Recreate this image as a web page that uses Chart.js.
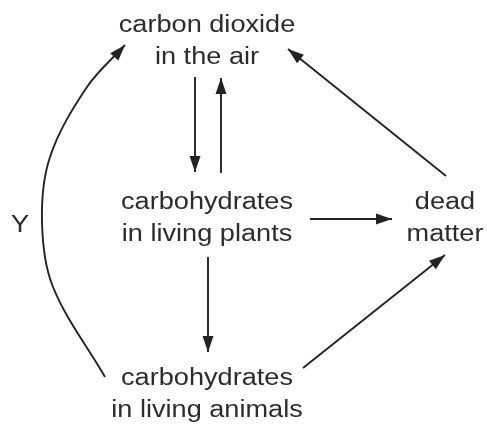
<!DOCTYPE html>
<html>
<head>
<meta charset="utf-8">
<script src="https://cdn.jsdelivr.net/npm/chart.js@4.4.1/dist/chart.umd.min.js"></script>
<style>
  html, body { margin: 0; padding: 0; background: #fff; }
  #wrap { width: 487px; height: 427px; }
</style>
</head>
<body>
<div id="wrap"><canvas id="myChart"></canvas></div>
<script>
// Boxes of the carbon cycle (text lines, centre x, first baseline y)
const boxLines = [
    ['carbon dioxide', 'in the air'],
    ['carbohydrates', 'in living plants'],
    ['dead', 'matter'],
    ['carbohydrates', 'in living animals']
];
const boxX = [207, 207, 445, 207];
const boxY = [32, 209, 209, 385];

// Side label of the curved arrow
const sideLabel = 'Y';
const sideX = 20;
const sideY = 232;

// Arrows (start ... tip), in picture units
const airToPlants = [{x: 195, y: 77}, {x: 195, y: 172}];
const plantsToAir = [{x: 221, y: 173}, {x: 221, y: 78}];
const plantsToDead = [{x: 310, y: 219}, {x: 392, y: 219}];
const plantsToAnimals = [{x: 208, y: 257}, {x: 208, y: 352}];
const animalsToDead = [{x: 303, y: 368}, {x: 445, y: 255}];
const deadToAir = [{x: 446, y: 176}, {x: 288, y: 49}];
const animalsToAir = [
    {x: 105, y: 377}, {x: 53, y: 287}, {x: 42, y: 222},
    {x: 50, y: 157}, {x: 87, y: 87}, {x: 125, y: 45}
];

const ink = '#232323';

function arrowSet(points, curved) {
    return {
        data: points,
        borderColor: ink,
        borderWidth: 1.9,
        pointRadius: 0,
        showLine: true,
        fill: false,
        tension: curved ? 0.35 : 0
    };
}

// draws arrow heads and the labels
const diagramPlugin = {
    id: 'diagram',
    afterDatasetsDraw(chart) {
        const ctx = chart.ctx;
        ctx.save();
        ctx.fillStyle = ink;
        chart.data.datasets.forEach((ds, i) => {
            const pts = chart.getDatasetMeta(i).data;
            const a = pts[pts.length - 2];
            const b = pts[pts.length - 1];
            const ang = Math.atan2(b.y - a.y, b.x - a.x);
            ctx.save();
            ctx.translate(b.x, b.y);
            ctx.rotate(ang);
            ctx.beginPath();
            ctx.moveTo(0, 0);
            ctx.lineTo(-16, -5.5);
            ctx.lineTo(-16, 5.5);
            ctx.closePath();
            ctx.fill();
            ctx.restore();
        });

        const xs = chart.scales.x;
        const ys = chart.scales.y;
        ctx.fillStyle = '#2c2c2c';
        ctx.font = '23px "Liberation Sans", Arial, sans-serif';
        ctx.textAlign = 'center';
        ctx.textBaseline = 'alphabetic';
        const drawText = (txt, x, y) => {
            ctx.save();
            ctx.translate(xs.getPixelForValue(x), ys.getPixelForValue(y));
            ctx.scale(1.18, 1);
            ctx.fillText(txt, 0, 0);
            ctx.restore();
        };
        boxLines.forEach((lines, i) => {
            lines.forEach((txt, j) => drawText(txt, boxX[i], boxY[i] + j * 32));
        });
        drawText(sideLabel, sideX, sideY);
        ctx.restore();
    }
};

const config = {
    type: 'scatter',
    data: {
        datasets: [
            arrowSet(airToPlants),
            arrowSet(plantsToAir),
            arrowSet(plantsToDead),
            arrowSet(plantsToAnimals),
            arrowSet(animalsToDead),
            arrowSet(deadToAir),
            arrowSet(animalsToAir, true)
        ]
    },
    options: {
        responsive: true,
        maintainAspectRatio: false,
        animation: false,
        layout: { padding: 0 },
        scales: {
            x: { type: 'linear', min: 0, max: 487, display: false },
            y: { type: 'linear', min: 0, max: 427, reverse: true, display: false }
        },
        plugins: {
            legend: { display: false },
            tooltip: { enabled: false }
        }
    },
    plugins: [diagramPlugin]
};

const myChart = new Chart(document.querySelector('#myChart'), config);
</script>
</body>
</html>
